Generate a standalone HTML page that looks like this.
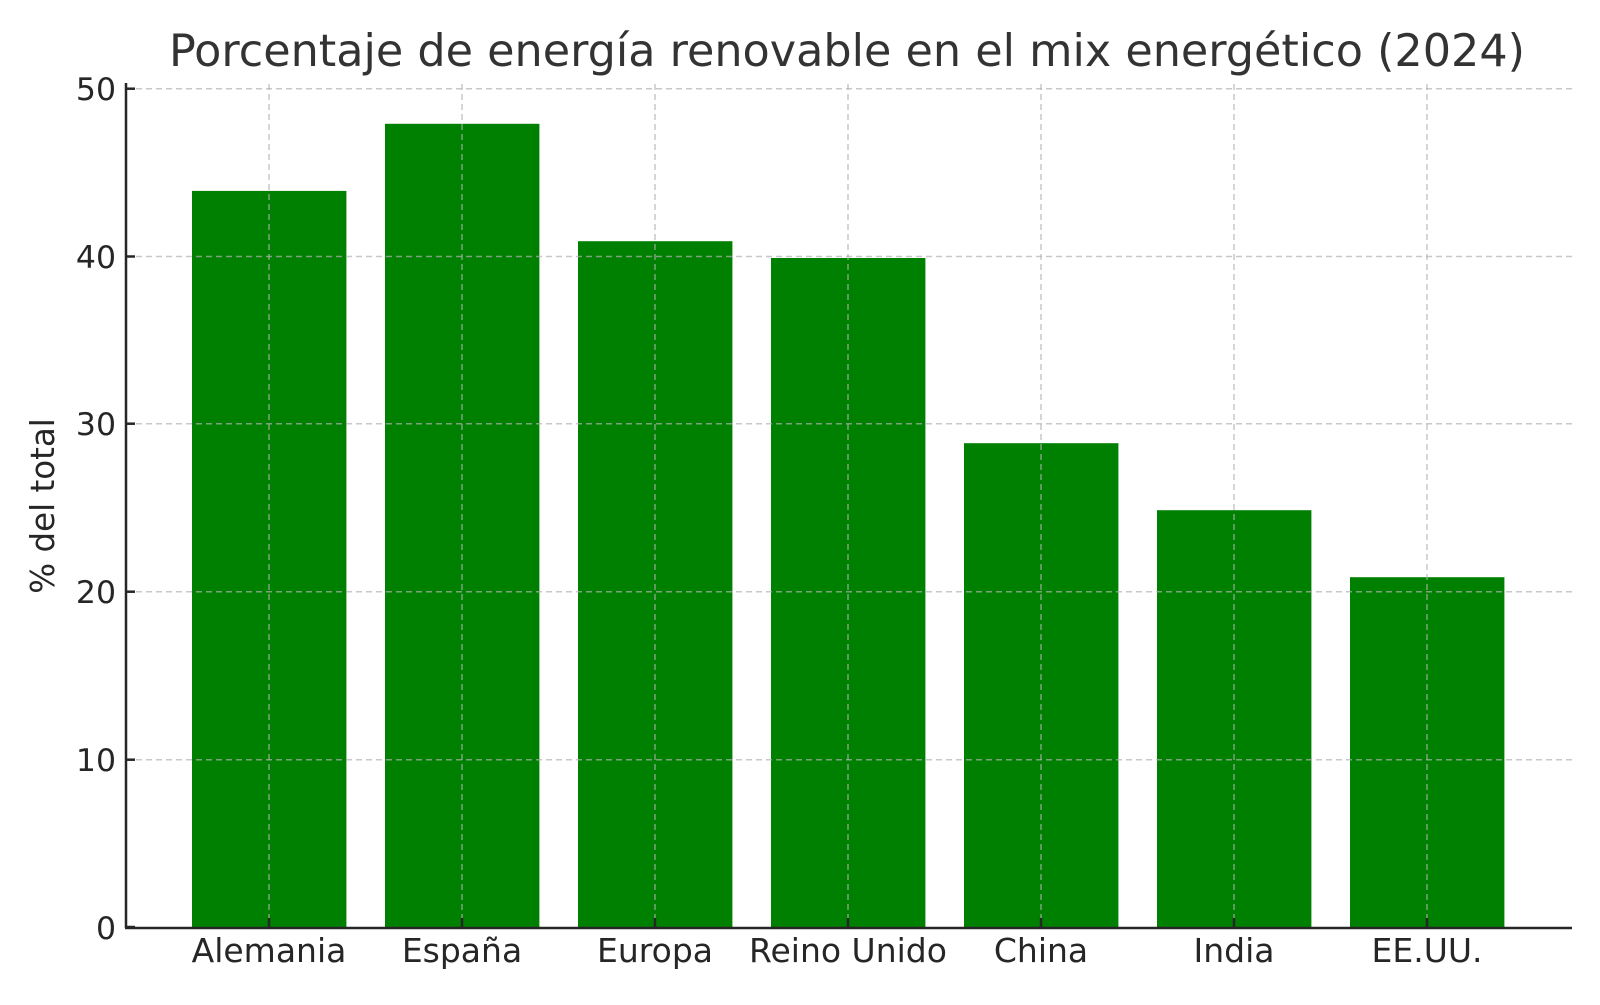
<!DOCTYPE html>
<html><head><meta charset="utf-8"><style>html,body{margin:0;padding:0;background:#fff}</style></head>
<body>
<svg width="1600" height="1000" xmlns="http://www.w3.org/2000/svg" font-family="DejaVu Sans, Liberation Sans, sans-serif">
<rect width="1600" height="1000" fill="#fff"/>
<g fill="#008000">
<rect x="192" y="190.9" width="154.4" height="737.1"/>
<rect x="385" y="123.8" width="154.4" height="804.2"/>
<rect x="578" y="241.2" width="154.4" height="686.8"/>
<rect x="771" y="258" width="154.4" height="670"/>
<rect x="964" y="443.2" width="154.4" height="484.8"/>
<rect x="1157" y="510.2" width="154.4" height="417.8"/>
<rect x="1350" y="577.2" width="154.4" height="350.8"/>
</g>
<g stroke="#b0b0b0" stroke-opacity="0.7" stroke-width="1.5" stroke-dasharray="6,4" fill="none">
<line x1="126" x2="1572" y1="88.7" y2="88.7"/>
<line x1="126" x2="1572" y1="256.5" y2="256.5"/>
<line x1="126" x2="1572" y1="423.7" y2="423.7"/>
<line x1="126" x2="1572" y1="591.7" y2="591.7"/>
<line x1="126" x2="1572" y1="759.7" y2="759.7"/>
<line y1="84" y2="927" x1="269" x2="269"/>
<line y1="84" y2="927" x1="462" x2="462"/>
<line y1="84" y2="927" x1="655" x2="655"/>
<line y1="84" y2="927" x1="848" x2="848"/>
<line y1="84" y2="927" x1="1041" x2="1041"/>
<line y1="84" y2="927" x1="1234" x2="1234"/>
<line y1="84" y2="927" x1="1427" x2="1427"/>
</g>
<g stroke="#262626" stroke-width="2.5">
<line x1="126" y1="83" x2="126" y2="928"/>
<line x1="125" y1="928" x2="1572" y2="928"/>
<line x1="126" x2="135" y1="88.7" y2="88.7"/><line x1="126" x2="135" y1="256.5" y2="256.5"/>
<line x1="126" x2="135" y1="423.7" y2="423.7"/><line x1="126" x2="135" y1="591.7" y2="591.7"/>
<line x1="126" x2="135" y1="759.7" y2="759.7"/><line x1="126" x2="135" y1="927" y2="927"/>
<line y1="927" y2="918" x1="269" x2="269"/><line y1="927" y2="918" x1="462" x2="462"/>
<line y1="927" y2="918" x1="655" x2="655"/><line y1="927" y2="918" x1="848" x2="848"/>
<line y1="927" y2="918" x1="1041" x2="1041"/><line y1="927" y2="918" x1="1234" x2="1234"/>
<line y1="927" y2="918" x1="1427" x2="1427"/>
</g>
<g fill="#262626" font-size="31.5" text-anchor="end">
<text x="116" y="100">50</text><text x="116" y="268">40</text><text x="116" y="435">30</text>
<text x="116" y="603">20</text><text x="116" y="771">10</text><text x="116" y="939">0</text>
</g>
<g fill="#262626" font-size="33" text-anchor="middle">
<text x="269" y="962">Alemania</text><text x="462" y="962">España</text><text x="655" y="962">Europa</text>
<text x="848" y="962">Reino Unido</text><text x="1041" y="962">China</text><text x="1234" y="962">India</text>
<text x="1427" y="962">EE.UU.</text>
</g>
<text transform="translate(54,506) rotate(-90)" text-anchor="middle" font-size="32.5" fill="#262626">% del total</text>
<text x="847" y="66" text-anchor="middle" font-size="44.5" fill="#333">Porcentaje de energía renovable en el mix energético (2024)</text>
</svg>
</body></html>
